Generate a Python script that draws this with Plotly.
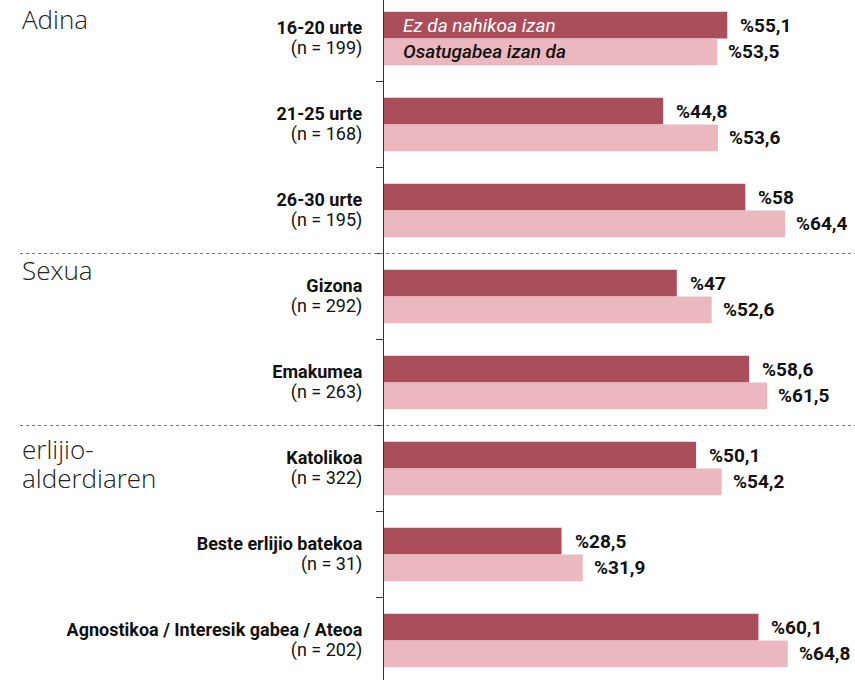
import plotly.graph_objects as go

group_names = ["16-20 urte", "21-25 urte", "26-30 urte", "Gizona", "Emakumea",
               "Katolikoa", "Beste erlijio batekoa", "Agnostikoa / Interesik gabea / Ateoa"]
group_n = [199, 168, 195, 292, 263, 322, 31, 202]
series_names = ["Ez da nahikoa izan", "Osatugabea izan da"]
ez_nahikoa = [55.1, 44.8, 58, 47, 58.6, 50.1, 28.5, 60.1]
osatugabea = [53.5, 53.6, 64.4, 52.6, 61.5, 54.2, 31.9, 64.8]
sections = ["Adina", "Sexua", "erlijio-<br>alderdiaren"]

DARK = "#AB4E5C"
LIGHT = "#EBB8BF"
W = 855
H = 680
L = 384
px_per_cat = 86
c0 = 38.5
px_per_unit = 6.23
section_top_px = [-1, 250, 429]

categories = [
    f"<b><span style='font-size:18px'>{nm}</span></b><br><span style='font-size:18px'>(n = {n})</span>"
    for nm, n in zip(group_names, group_n)
]

def fmt(v):
    return "%" + f"{v:g}".replace(".", ",")

fig = go.Figure()
fig.add_trace(go.Bar(y=categories, x=ez_nahikoa, orientation="h", name=series_names[0],
                     marker=dict(color=DARK, line=dict(width=0)), width=0.31, offset=-0.31,
                     showlegend=False, hoverinfo="skip"))
fig.add_trace(go.Bar(y=categories, x=osatugabea, orientation="h", name=series_names[1],
                     marker=dict(color=LIGHT, line=dict(width=0)), width=0.31, offset=0.0,
                     showlegend=False, hoverinfo="skip"))

ann = []
vfont = dict(size=19, color="#111", family="Roboto")
for i, (a, b) in enumerate(zip(ez_nahikoa, osatugabea)):
    ann.append(dict(x=a, y=i - 0.155, xref="x", yref="y", text="<b>" + fmt(a) + "</b>",
                    showarrow=False, xanchor="left", yanchor="middle", xshift=11, font=vfont))
    ann.append(dict(x=b, y=i + 0.155, xref="x", yref="y", text="<b>" + fmt(b) + "</b>",
                    showarrow=False, xanchor="left", yanchor="middle", xshift=9, font=vfont))

# series labels inside first group bars
ann.append(dict(x=0, y=-0.155, xref="x", yref="y", text="<i>" + series_names[0] + "</i>",
                showarrow=False, xanchor="left", yanchor="middle", xshift=17,
                font=dict(size=19, color="white", family="Roboto")))
ann.append(dict(x=0, y=0.155, xref="x", yref="y", text="<i>" + series_names[1] + "</i>",
                showarrow=False, xanchor="left", yanchor="middle", xshift=17,
                font=dict(size=19, color="#111", family="Roboto", weight=500)))

x_left_paper = (20 - L) / (W - L)

for s, tp in zip(sections, section_top_px):
    ann.append(dict(x=x_left_paper, y=1 - tp / H, xref="paper", yref="paper",
                    text=f"<span style='font-size:26px'>{s.replace('<br>', '</span><br><span style=\"font-size:26px\">')}</span>",
                    showarrow=False, xanchor="left", yanchor="top", align="left",
                    font=dict(size=22, color="#222", family="Open Sans", weight=300)))

shapes = []
for yb in [2.5, 4.5]:
    shapes.append(dict(type="line", xref="paper", yref="y", x0=x_left_paper, x1=1,
                       y0=yb, y1=yb, line=dict(color="#777", width=1, dash="dot"), layer="above"))

y_top = -c0 / px_per_cat
y_bot = (H - c0) / px_per_cat

fig.update_layout(
    width=W, height=H,
    margin=dict(l=L, r=0, t=0, b=0, pad=0),
    paper_bgcolor="white", plot_bgcolor="white",
    barmode="overlay",
    annotations=ann, shapes=shapes,
    xaxis=dict(range=[0, (W - L) / px_per_unit], visible=False, fixedrange=True),
    yaxis=dict(type="category", range=[y_bot, y_top], showline=True, linecolor="#333", linewidth=1.5,
               ticks="outside", tickson="boundaries", ticklen=7, tickcolor="#333", tickwidth=1.2,
               showgrid=False, zeroline=False, ticklabelstandoff=17, fixedrange=True,
               tickfont=dict(size=16, color="#111", family="Roboto")),
    font=dict(family="Roboto"),
)

fig.write_html("out.html", config={"displayModeBar": False, "staticPlot": True},
               post_script="document.body.style.margin='0';document.body.style.overflow='hidden';")
